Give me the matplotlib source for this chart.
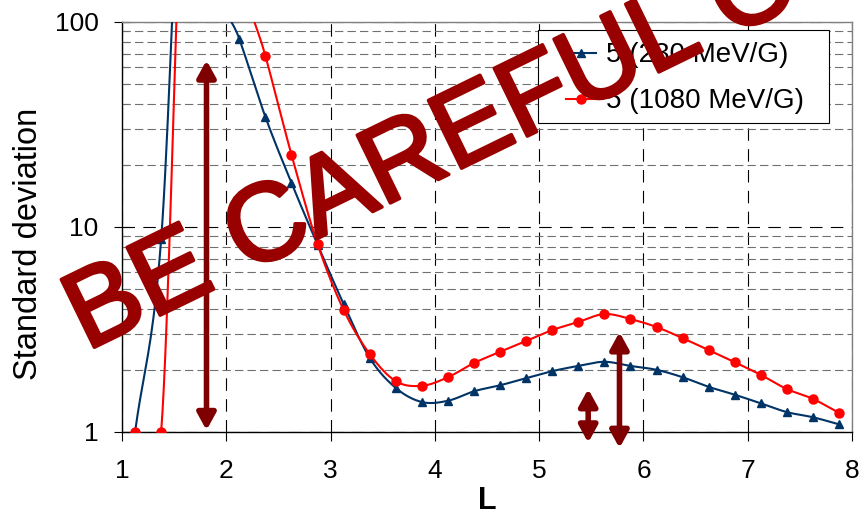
import numpy as np
import matplotlib
matplotlib.use("Agg")
import matplotlib.pyplot as plt
import matplotlib.patheffects as pe
from matplotlib.lines import Line2D
from matplotlib.patches import FancyArrowPatch, Rectangle

plt.rcParams['font.family'] = ['Liberation Sans', 'DejaVu Sans']
plt.rcParams['lines.scale_dashes'] = False

# L shell bins
L = [1.125, 1.375, 1.625, 1.875, 2.125, 2.375, 2.625, 2.875, 3.125, 3.375,
     3.625, 3.875, 4.125, 4.375, 4.625, 4.875, 5.125, 5.375, 5.625, 5.875,
     6.125, 6.375, 6.625, 6.875, 7.125, 7.375, 7.625, 7.875]

# standard deviation per bin, two energy channels
sd_230 = [1.0, 8.7, 2000, 180, 82.6, 34.4, 16.4, 8.2, 4.21, 2.30,
          1.64, 1.40, 1.42, 1.58, 1.69, 1.83, 1.98, 2.10, 2.20, 2.10,
          2.01, 1.85, 1.66, 1.52, 1.38, 1.25, 1.18, 1.09]
sd_1080 = [1.0, 1.0, 2000, 1600, 190, 68.3, 22.5, 8.26, 3.94, 2.40,
           1.77, 1.68, 1.85, 2.17, 2.46, 2.78, 3.14, 3.44, 3.76, 3.56,
           3.25, 2.87, 2.51, 2.19, 1.90, 1.62, 1.45, 1.24]
labels = ["5 (230 MeV/G)", "5 (1080 MeV/G)"]

# double arrows: x position, lower and upper end
arrow_x = [1.81, 5.47, 5.77]
arrow_lo = [1.02, 0.887, 0.835]
arrow_hi = [65.0, 1.62, 3.07]


def smooth(x, y, n=20):
    # Catmull-Rom through the points in (x, log y)
    x = np.asarray(x, float)
    p = np.log10(np.asarray(y, float))
    m = np.zeros_like(p)
    m[1:-1] = (p[2:] - p[:-2]) / 2
    m[0] = p[1] - p[0]
    m[-1] = p[-1] - p[-2]
    xs, ys = [], []
    for i in range(len(x) - 1):
        t = np.linspace(0, 1, n, endpoint=False)
        h00 = 2*t**3 - 3*t**2 + 1
        h10 = t**3 - 2*t**2 + t
        h01 = -2*t**3 + 3*t**2
        h11 = t**3 - t**2
        xs.append(x[i] + t*(x[i+1] - x[i]))
        ys.append(h00*p[i] + h10*m[i] + h01*p[i+1] + h11*m[i+1])
    xs.append([x[-1]])
    ys.append([p[-1]])
    return np.concatenate(xs), 10**np.concatenate(ys)


fig = plt.figure(figsize=(8.63, 5.15), dpi=100)
ax = fig.add_axes([0.1414, 0.1612, 0.8459, 0.7961])
ax.set_yscale('log')
ax.set_xlim(1, 8)
ax.set_ylim(1, 100)

blue = '#003366'
red = '#ff0000'

sx, sy = smooth(L, sd_230)
ax.plot(sx, sy, color=blue, lw=1.5, zorder=3)
ax.plot(L, sd_230, ls='none', marker='^', ms=6, color=blue, zorder=3)
sx, sy = smooth(L, sd_1080)
ax.plot(sx, sy, color=red, lw=1.5, zorder=4)
ax.plot(L, sd_1080, ls='none', marker='o', ms=6.5, color=red, zorder=4)

# grid
ax.set_xticks(range(1, 9))
ax.grid(True, axis='x', which='major', color='black', lw=0.8, ls=(0, (9, 6)))
ax.grid(True, axis='y', which='major', color='black', lw=0.8, ls=(0, (9, 6)))
ax.grid(True, axis='y', which='minor', color='#707070', lw=0.8, ls=(0, (6, 3)))
ax.set_axisbelow(True)

ax.set_yticks([1, 10, 100])
ax.set_yticklabels(['1', '10', '100'])
ax.tick_params(axis='y', which='major', direction='inout', length=12, width=0.8,
               labelsize=19, pad=11)
ax.tick_params(axis='y', which='minor', direction='in', length=5, width=0.8,
               color='#707070', labelleft=False)
ax.tick_params(axis='x', which='major', direction='out', length=6.5, width=0.8,
               labelsize=19, pad=13)
ax.xaxis.set_minor_locator(plt.NullLocator())

for side in ['left', 'bottom']:
    ax.spines[side].set_color('black')
    ax.spines[side].set_linewidth(1)
for side in ['top', 'right']:
    ax.spines[side].set_color('#808080')
    ax.spines[side].set_linewidth(1)

ax.set_xlabel('L', fontsize=22, fontweight='bold')
ax.xaxis.set_label_coords(0.5, -0.132)
ax.set_ylabel('Standard deviation', fontsize=23.5)
ax.yaxis.set_label_coords(-0.107, 0.46)

# legend box drawn separately so the padding can be wider than tall
ax.add_patch(Rectangle((0.570, 0.754), 0.398, 0.226, transform=ax.transAxes,
                       facecolor='white', edgecolor='black', lw=0.8, zorder=5))
handles = [Line2D([], [], color=blue, lw=1.5, marker='^', ms=6),
           Line2D([], [], color=red, lw=1.5, marker='o', ms=6.5)]
leg = ax.legend(handles, labels, loc='upper left', bbox_to_anchor=(0.608, 0.950),
                borderaxespad=0, fontsize=20, handlelength=1.1, handletextpad=0.33,
                borderpad=0, labelspacing=0.72, frameon=False)
leg.set_zorder(6)

for x, lo, hi in zip(arrow_x, arrow_lo, arrow_hi):
    arr = FancyArrowPatch((x, lo), (x, hi), arrowstyle='<|-|>,head_length=10,head_width=5.5',
                          mutation_scale=1, lw=4, color='#7f0000', clip_on=False,
                          shrinkA=0, shrinkB=0, zorder=7)
    ax.add_patch(arr)

wm = fig.text(0.100, 0.318, 'BE CAREFUL OF', rotation=26, rotation_mode='anchor',
              ha='left', va='baseline', fontsize=79, color='#990000', zorder=10)
wm.set_path_effects([pe.Stroke(linewidth=2.5, foreground='#990000', joinstyle='round',
                               capstyle='round'), pe.Normal()])

fig.savefig('out.png', dpi=100)
